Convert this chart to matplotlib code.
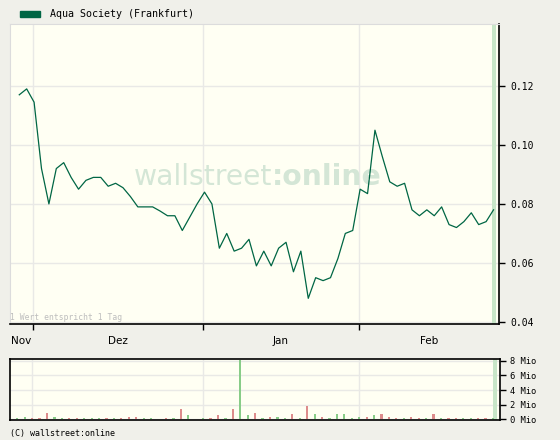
import matplotlib
matplotlib.use("Agg")
import matplotlib.pyplot as plt

# daily closing prices (EUR), one value per trading day
prices = [0.117, 0.119, 0.1145, 0.092, 0.080, 0.092, 0.094, 0.089, 0.085, 0.088,
          0.089, 0.089, 0.086, 0.087, 0.0855, 0.0825, 0.079, 0.079, 0.079, 0.0776,
          0.076, 0.076, 0.071, 0.0755, 0.080, 0.084, 0.080, 0.065, 0.070, 0.064,
          0.065, 0.068, 0.059, 0.064, 0.059, 0.065, 0.067, 0.057, 0.064, 0.048,
          0.055, 0.054, 0.055, 0.0615, 0.070, 0.071, 0.085, 0.0835, 0.105, 0.096,
          0.0875, 0.086, 0.087, 0.078, 0.076, 0.078, 0.076, 0.079, 0.073, 0.072,
          0.074, 0.077, 0.073, 0.074, 0.078]

# daily volume in Mio and whether the day closed up (u) or down (d)
volumes = [0.27, 0.4, 0.27, 0.14, 0.82, 0.4, 0.27, 0.27, 0.27, 0.27,
           0.27, 0.27, 0.14, 0.14, 0.27, 0.4, 0.4, 0.27, 0.27, 0.0,
           0.27, 0.14, 1.37, 0.55, 0.0, 0.27, 0.14, 0.55, 0.27, 1.37,
           8.1, 0.55, 0.82, 0.27, 0.4, 0.4, 0.27, 0.68, 0.27, 1.78,
           0.68, 0.4, 0.27, 0.68, 0.68, 0.14, 0.4, 0.4, 0.55, 0.68,
           0.4, 0.14, 0.14, 0.4, 0.14, 0.14, 0.68, 0.14, 0.27, 0.14,
           0.14, 0.14, 0.14, 0.14, 0.27]
direction = ["u", "u", "d", "d", "d", "u", "u", "d", "d", "u",
             "u", "u", "d", "u", "d", "d", "d", "u", "u", "u",
             "d", "u", "d", "u", "u", "u", "d", "d", "u", "d",
             "u", "u", "d", "u", "d", "u", "u", "d", "u", "d",
             "u", "d", "u", "u", "u", "u", "u", "d", "u", "d",
             "d", "d", "u", "d", "d", "u", "d", "u", "d", "d",
             "u", "u", "d", "d", "u"]

month_names = ["Nov", "Dez", "Jan", "Feb"]
month_first = [2, 25, 46]          # index of first trading day in each month
price_ticks = [0.04, 0.06, 0.08, 0.10, 0.12]
vol_ticks = [0, 2, 4, 6, 8]

BG = "#f0f0ea"
FACE = "#fffff3"
GRID = "#e9e9e6"
LINE = "#006644"
UP = "#88cc88"
DOWN = "#dd8c8c"
HILITE = "#c8e6c8"
WATER = "#d4e6d6"
MONO = "DejaVu Sans Mono"

n = len(prices)
xs = list(range(n))
xmin, xmax = -1.05, 64.94

fig = plt.figure(figsize=(5.6, 4.4), dpi=100, facecolor=BG)

# ---- price panel
ax = fig.add_axes([10 / 560, 1 - 324 / 440, 489 / 560, 300 / 440], facecolor=FACE)
ax.plot([x + 0.2 for x in xs], prices, color=LINE, lw=0.9, zorder=3)
ax.axvspan(64.05, 64.5, color=HILITE, lw=0, zorder=1)
ax.set_xlim(xmin, xmax)
ax.set_ylim(0.0393, 0.141)
ax.yaxis.tick_right()
ax.set_yticks(price_ticks)
ax.set_yticklabels(["%.2f" % v for v in price_ticks], fontfamily=MONO, fontsize=7)
ax.tick_params(axis="y", length=4, width=1, pad=4, color="black")
ax.set_xticks(month_first)
ax.set_xticklabels([])
ax.tick_params(axis="x", which="major", length=4, width=1, direction="out")

bounds = [xmin] + month_first + [xmax]
mids = [(bounds[i] + bounds[i + 1]) / 2 for i in range(len(month_names))]
ax.set_xticks(mids, minor=True)
ax.set_xticklabels(month_names, minor=True, fontsize=7.5)
ax.tick_params(axis="x", which="minor", length=0, pad=9)

ax.grid(True, color=GRID, lw=1, zorder=0)
ax.set_axisbelow(True)
for side in ["left", "top"]:
    ax.spines[side].set_color("#dcdcdc")
for side in ["right", "bottom"]:
    ax.spines[side].set_color("black")
    ax.spines[side].set_linewidth(1.2)

# watermark
ax.text(0.536, 0.49, "wallstreet", transform=ax.transAxes, ha="right", va="center",
        fontsize=20.3, color=WATER, zorder=2)
ax.text(0.536, 0.49, ":online", transform=ax.transAxes, ha="left", va="center",
        fontsize=20.3, fontweight="bold", color=WATER, zorder=2)
ax.text(0.0, 0.005, "1 Wert entspricht 1 Tag", transform=ax.transAxes,
        ha="left", va="bottom", fontfamily=MONO, fontsize=5.8, color="#bdbdbd")

# ---- volume panel
vax = fig.add_axes([9.5 / 560, 1 - 420 / 440, 490.5 / 560, 60.7 / 440], facecolor=FACE)
colors = [UP if d == "u" else DOWN for d in direction]
vax.bar(xs, volumes, width=0.3, color=colors, zorder=3)
vax.axvspan(64.05, 64.5, color=HILITE, lw=0, zorder=1)
vax.set_xlim(xmin, xmax)
vax.set_ylim(-0.07, 8.19)
vax.yaxis.tick_right()
vax.set_yticks(vol_ticks)
vax.set_yticklabels(["%d Mio" % v for v in vol_ticks], fontfamily=MONO, fontsize=6.3)
vax.tick_params(axis="y", length=4, width=1, pad=3)
vax.set_xticks(month_first)
vax.set_xticklabels([])
vax.tick_params(axis="x", length=0)
vax.grid(True, color=GRID, lw=1, zorder=0)
vax.set_axisbelow(True)
for s in vax.spines.values():
    s.set_color("black")
    s.set_linewidth(1.2)

# ---- legend and footer
fig.patches.append(plt.Rectangle((20 / 560, 1 - 17 / 440), 20 / 560, 6 / 440,
                                 transform=fig.transFigure, color=LINE))
fig.text(50 / 560, 1 - 14 / 440, "Aqua Society (Frankfurt)", fontfamily=MONO,
         fontsize=7.2, va="center", ha="left")
fig.text(10 / 560, 1 - 433 / 440, "(C) wallstreet:online", fontfamily=MONO,
         fontsize=6, va="center", ha="left")

fig.savefig("out.png", dpi=100, facecolor=BG)
